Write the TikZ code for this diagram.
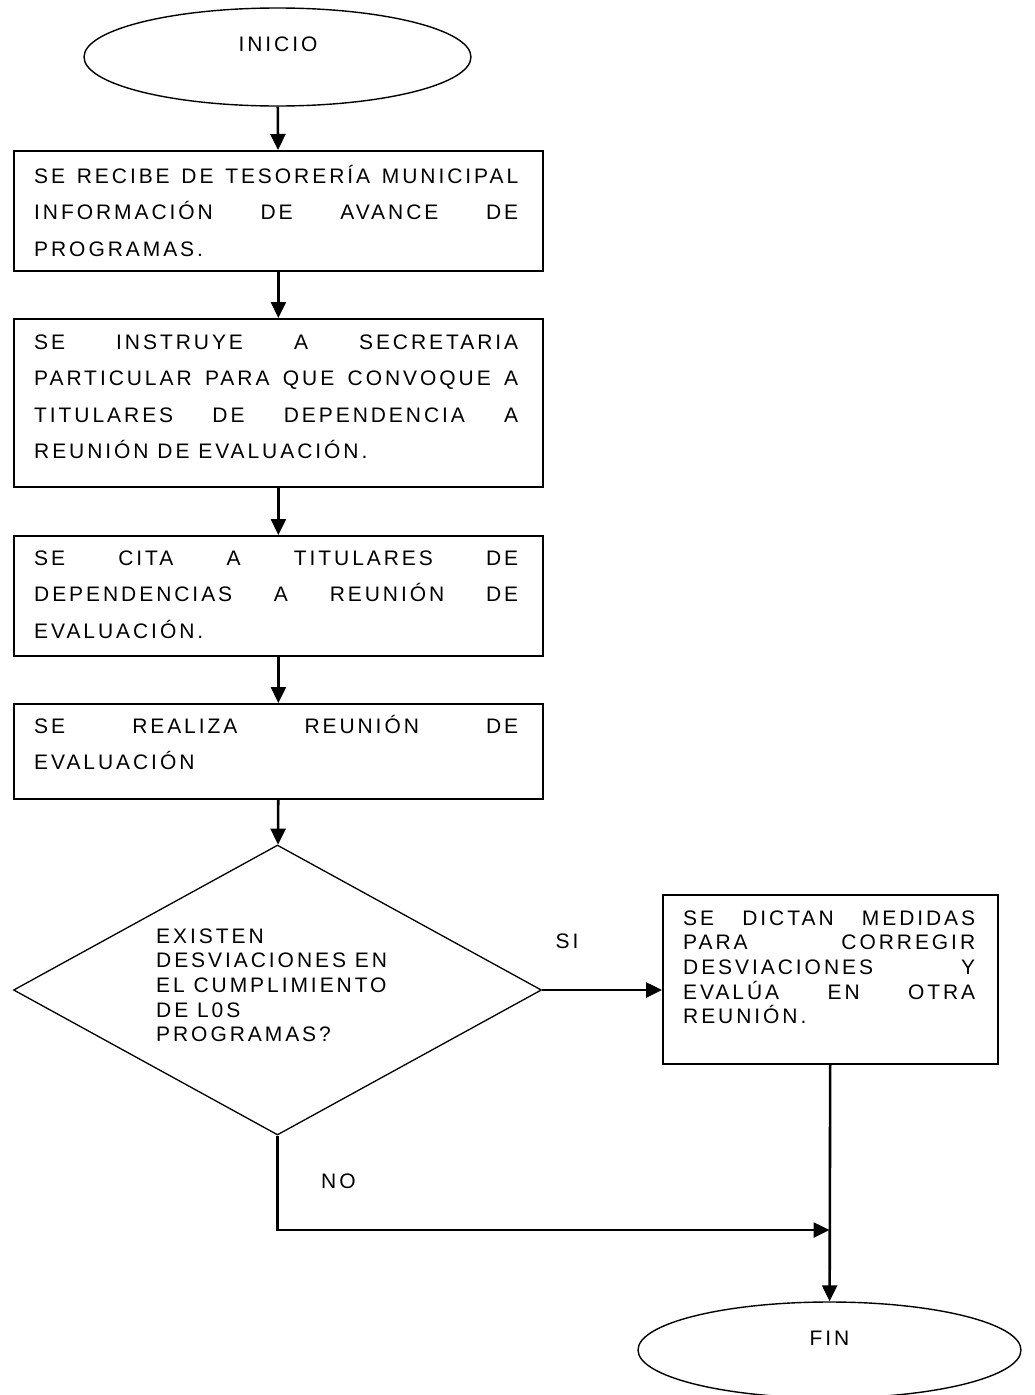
\documentclass[tikz,border=0pt]{standalone}
\usepackage{fontspec}
\setmainfont{Liberation Sans}[LetterSpace=14]
\usetikzlibrary{shapes.geometric,arrows.meta}

% a justified line of fixed width
\newcommand\jline[2]{\makebox[#1][s]{#2}}

\begin{document}
\begin{tikzpicture}[x=1pt,y=-1pt,
  proc/.style={draw, line width=1.8pt, rectangle, anchor=north west, inner sep=0pt},
  term/.style={draw, line width=1.4pt, ellipse, inner sep=0pt},
  decis/.style={draw, line width=1.3pt, diamond, inner sep=0pt},
  bodytxt/.style={anchor=base west, inner sep=0pt, font=\fontsize{21pt}{36.5pt}\selectfont},
  smalltxt/.style={anchor=base west, inner sep=0pt, font=\fontsize{21pt}{24.7pt}\selectfont},
  lbl/.style={inner sep=0pt, font=\fontsize{21pt}{25pt}\selectfont},
  conn/.style={line width=2.6pt, -{Triangle[length=16pt,width=15pt]}},
  plain/.style={line width=2.6pt}
]
\useasboundingbox (0,0) rectangle (1034,1395);

% start terminal
\node[term, minimum width=387pt, minimum height=98pt] (ini) at (277.5,57) {};
\node[lbl, anchor=base] (tini) at (278,51) {INICIO};

% process steps
\node[proc, minimum width=529pt, minimum height=120pt] (b1) at (13,150) {};
\node[bodytxt] (t1) at (34,183) {\parbox[t]{484pt}{%
  \jline{484pt}{SE RECIBE DE TESORERÍA MUNICIPAL}\\
  \jline{484pt}{INFORMACIÓN DE AVANCE DE}\\
  PROGRAMAS.}};

\node[proc, minimum width=529pt, minimum height=168pt] (b2) at (13,318) {};
\node[bodytxt] (t2) at (34,349) {\parbox[t]{484pt}{%
  \jline{484pt}{SE INSTRUYE A SECRETARIA}\\
  \jline{484pt}{PARTICULAR PARA QUE CONVOQUE A}\\
  \jline{484pt}{TITULARES DE DEPENDENCIA A}\\
  REUNIÓN DE EVALUACIÓN.}};

\node[proc, minimum width=529pt, minimum height=120pt] (b3) at (13,535) {};
\node[bodytxt] (t3) at (34,565) {\parbox[t]{484pt}{%
  \jline{484pt}{SE CITA A TITULARES DE}\\
  \jline{484pt}{DEPENDENCIAS A REUNIÓN DE}\\
  EVALUACIÓN.}};

\node[proc, minimum width=529pt, minimum height=95pt] (b4) at (13,703) {};
\node[bodytxt] (t4) at (34,733) {\parbox[t]{484pt}{%
  \jline{484pt}{SE REALIZA REUNIÓN DE}\\
  EVALUACIÓN}};

% decision
\node[decis, minimum width=528pt, minimum height=290pt] (dec) at (277.5,990) {};
\node[smalltxt] (tdec) at (156,943) {\parbox[t]{240pt}{%
  EXISTEN\\
  DESVIACIONES EN\\
  EL CUMPLIMIENTO\\
  DE L0S\\
  PROGRAMAS?}};

% corrective step
\node[proc, minimum width=335pt, minimum height=169pt] (b5) at (662,894) {};
\node[smalltxt] (t5) at (683,925) {\parbox[t]{292pt}{%
  \jline{292pt}{SE DICTAN MEDIDAS}\\
  \jline{292pt}{PARA CORREGIR}\\
  \jline{292pt}{DESVIACIONES Y}\\
  \jline{292pt}{EVALÚA EN OTRA}\\
  REUNIÓN.}};

% end terminal
\node[term, minimum width=383pt, minimum height=96pt] (fin) at (829.5,1350) {};
\node[lbl, anchor=base] (tfin) at (829.5,1345) {FIN};

% branch labels
\node[lbl, anchor=base] (si) at (567,948) {SI};
\node[lbl, anchor=base west] (no) at (321,1188) {NO};

% connectors
\draw[conn] (ini) -- (b1);
\draw[conn] (b1) -- (b2);
\draw[conn] (b2) -- (b3);
\draw[conn] (b3) -- (b4);
\draw[conn] (b4) -- (dec);
\draw[conn] (dec.east) -- (dec.east -| b5.west);
\draw[conn] (b5) -- (fin);
\coordinate (join) at (829.5,1230);
\draw[conn] (dec.south) |- (join);
\end{tikzpicture}
\end{document}
